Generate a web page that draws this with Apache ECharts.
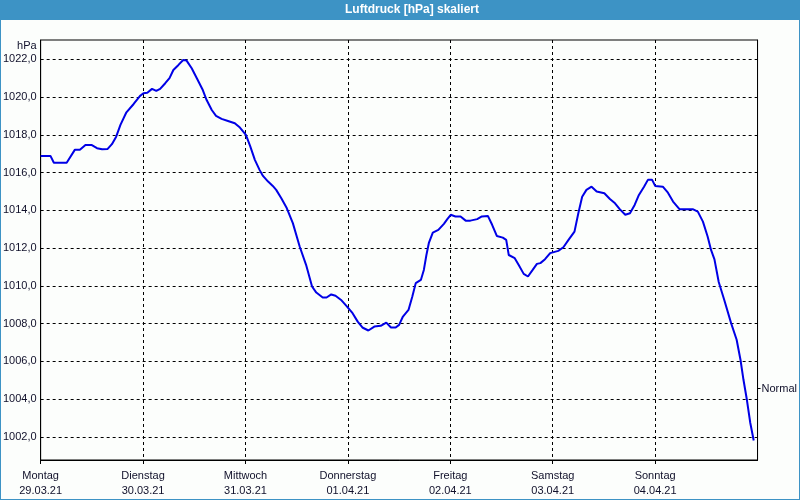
<!DOCTYPE html>
<html>
<head>
<meta charset="utf-8">
<script src="https://cdn.jsdelivr.net/npm/echarts@6/dist/echarts.min.js"></script>
<style>
  html, body { margin: 0; padding: 0; background: #fcfefc; }
  #wrap { position: relative; width: 800px; height: 500px; }
  #chart { width: 800px; height: 500px; }
  #frame { position: absolute; left: 0; top: 0; width: 800px; height: 500px; box-sizing: border-box; border: 1px solid #3d93c5; pointer-events: none; }
</style>
</head>
<body>
<div id="wrap"><div id="chart"></div><div id="frame"></div></div>
<script>
// Hours since Monday 29.03.21 00:00
const hours = [0, 2.3, 3.1, 6.1, 8.0, 9.2, 10.5, 11.9, 13.2, 14.4, 15.7, 16.7, 17.7, 18.7, 20.1, 21.8, 23.3, 24.1, 25.0, 26.1, 27.1, 28.0, 29.2, 30.2, 31.1, 32.3, 33.4, 34.2, 35.4, 36.6, 38.0, 38.9, 40.1, 41.1, 42.4, 43.9, 45.5, 46.7, 48.1, 49.1, 50.2, 51.3, 52.1, 53.3, 54.4, 55.2, 56.4, 57.6, 59.1, 60.7, 62.2, 63.6, 64.6, 66.1, 67.0, 68.1, 69.1, 70.4, 71.6, 73.1, 74.3, 75.4, 76.8, 78.2, 79.7, 80.5, 81.0, 82.1, 83.2, 84.0, 84.9, 86.2, 87.1, 87.9, 89.1, 89.8, 90.4, 91.0, 91.9, 93.2, 94.5, 95.3, 96.1, 97.2, 98.4, 99.6, 100.7, 102.3, 103.4, 104.8, 105.8, 106.9, 108.3, 109.1, 109.7, 111.1, 112.0, 113.2, 114.2, 115.3, 116.3, 117.1, 118.2, 119.4, 121.3, 122.5, 123.7, 125.1, 126.0, 126.9, 127.9, 129.1, 130.3, 132.1, 133.4, 134.6, 135.7, 137.0, 138.1, 139.2, 140.2, 141.4, 142.3, 143.3, 144.0, 145.8, 147.0, 148.2, 149.7, 151.3, 152.8, 154.0, 155.2, 156.3, 157.1, 157.9, 158.9, 160.2, 161.8, 163.1, 164.0, 164.7, 165.5, 166.3, 167.1];
const pressure = [1016.88, 1016.88, 1016.52, 1016.52, 1017.2, 1017.2, 1017.46, 1017.46, 1017.29, 1017.23, 1017.25, 1017.5, 1017.9, 1018.52, 1019.19, 1019.63, 1020.06, 1020.2, 1020.23, 1020.43, 1020.32, 1020.43, 1020.73, 1021.0, 1021.43, 1021.7, 1021.96, 1021.93, 1021.52, 1020.99, 1020.37, 1019.84, 1019.31, 1019.0, 1018.84, 1018.73, 1018.61, 1018.38, 1017.99, 1017.4, 1016.67, 1016.14, 1015.82, 1015.52, 1015.29, 1015.08, 1014.64, 1014.15, 1013.32, 1012.08, 1011.11, 1009.96, 1009.64, 1009.38, 1009.38, 1009.54, 1009.47, 1009.25, 1008.95, 1008.55, 1008.1, 1007.79, 1007.63, 1007.84, 1007.88, 1007.98, 1008.05, 1007.79, 1007.79, 1007.93, 1008.37, 1008.72, 1009.43, 1010.14, 1010.31, 1010.84, 1011.63, 1012.29, 1012.82, 1012.96, 1013.28, 1013.53, 1013.76, 1013.67, 1013.67, 1013.45, 1013.45, 1013.53, 1013.67, 1013.7, 1013.23, 1012.64, 1012.55, 1012.43, 1011.63, 1011.46, 1011.11, 1010.63, 1010.49, 1010.84, 1011.16, 1011.2, 1011.41, 1011.73, 1011.85, 1012.04, 1012.43, 1012.87, 1013.84, 1014.72, 1015.08, 1015.25, 1014.99, 1014.9, 1014.6, 1014.37, 1014.06, 1013.76, 1013.84, 1014.28, 1014.81, 1015.25, 1015.61, 1015.61, 1015.29, 1015.25, 1014.93, 1014.46, 1014.06, 1014.06, 1014.06, 1013.93, 1013.4, 1012.61, 1011.9, 1011.4, 1010.2, 1009.25, 1008.02, 1007.14, 1006.08, 1005.02, 1003.96, 1002.73, 1001.8];
const dayNames = ['Montag', 'Dienstag', 'Mittwoch', 'Donnerstag', 'Freitag', 'Samstag', 'Sonntag'];
const dayDates = ['29.03.21', '30.03.21', '31.03.21', '01.04.21', '02.04.21', '03.04.21', '04.04.21'];
const yTicks = [1002, 1004, 1006, 1008, 1010, 1012, 1014, 1016, 1018, 1020, 1022];
const normalValue = [1004.55];
const normalLabel = 'Normal';
const titleText = 'Luftdruck [hPa] skaliert';
const unitText = 'hPa';

const seriesData = hours.map((h, i) => [h, pressure[i]]);
const FONT = 'Liberation Sans';
const TXT = '#10102a';

const chart = echarts.init(document.getElementById('chart'), null, { renderer: 'canvas' });
chart.setOption({
  animation: false,
  backgroundColor: '#fcfefc',
  graphic: [{
    type: 'rect', z: -10, silent: true,
    shape: { x: 0, y: 0, width: 800, height: 20 },
    style: { fill: '#3d93c5' }
  }],
  title: {
    text: titleText,
    left: 412, top: 4, padding: 0, textAlign: 'center',
    textStyle: { color: '#ffffff', fontFamily: FONT, fontSize: 12, fontWeight: 'bold' }
  },
  grid: {
    left: 40, right: 40, top: 40, bottom: 40,
    show: true, backgroundColor: '#fcfefc', borderColor: '#000', borderWidth: 1,
    containLabel: false
  },
  xAxis: {
    type: 'value', min: 0, max: 168, interval: 24,
    axisLine: { show: true, lineStyle: { color: '#000', width: 1 } },
    axisTick: { show: true, length: 4, inside: false, lineStyle: { color: '#000' } },
    axisLabel: {
      margin: 8, color: TXT, fontFamily: FONT, fontSize: 11, lineHeight: 15.5,
      showMaxLabel: false, showMinLabel: true,
      formatter: v => { const i = Math.round(v / 24); return i < dayNames.length ? dayNames[i] + '\n' + dayDates[i] : ''; }
    },
    splitLine: { show: true, lineStyle: { color: '#000', type: [3, 3], width: 1 } }
  },
  yAxis: [{
    type: 'value', min: 1000.77, max: 1023.02, position: 'left',
    name: unitText, nameLocation: 'end', nameGap: -6,
    nameTextStyle: { color: TXT, fontFamily: FONT, fontSize: 11, align: 'right', verticalAlign: 'middle', padding: [0, 4, 0, 0] },
    axisLine: { show: true, lineStyle: { color: '#000', width: 1 } },
    axisTick: { show: false, customValues: yTicks },
    axisLabel: {
      customValues: yTicks, margin: 4, color: TXT, fontFamily: FONT, fontSize: 11,
      formatter: v => v.toFixed(1).replace('.', ',')
    },
    splitLine: { show: true, lineStyle: { color: '#000', type: [3, 3], width: 1 } }
  }, {
    type: 'value', min: 1000.77, max: 1023.02, position: 'right',
    axisLine: { show: true, lineStyle: { color: '#000', width: 1 } },
    axisTick: { show: true, length: 3, customValues: normalValue, lineStyle: { color: '#000' } },
    axisLabel: { customValues: normalValue, margin: 4, color: TXT, fontFamily: FONT, fontSize: 11, formatter: () => normalLabel },
    splitLine: { show: false }
  }],
  series: [{
    type: 'line', yAxisIndex: 0, data: seriesData,
    showSymbol: false, symbol: 'none', smooth: false,
    lineStyle: { color: '#0000e6', width: 2 }
  }]
});
</script>
</body>
</html>
